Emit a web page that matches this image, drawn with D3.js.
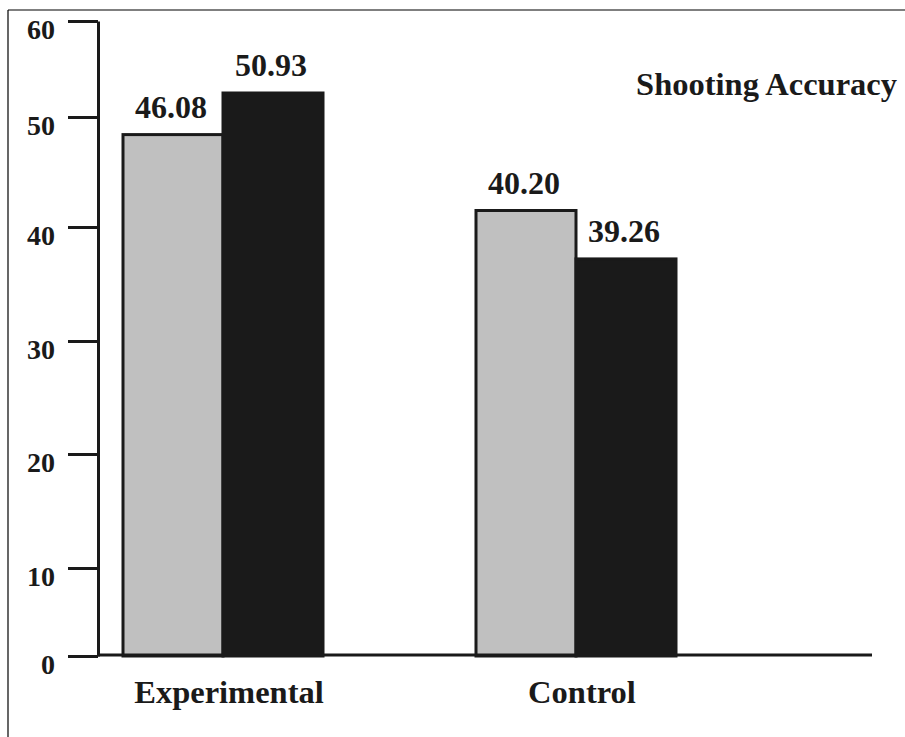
<!DOCTYPE html>
<html>
  <head>
    <meta charset="UTF-8" />
    <script src="https://cdnjs.cloudflare.com/ajax/libs/d3/7.8.5/d3.min.js"></script>
    <style>
      body { margin: 0; background: #fff; }
      .axis path, .axis line { stroke: #1a1a1a; stroke-width: 3; }
      .frame { stroke: #000; stroke-width: 1.2; }
    </style>
  </head>
  <body>
    <svg width="905" height="737"></svg>
    <script>
      // data
      var categories = ["Experimental", "Control"];
      var series = ["pre", "post"];
      // printed values above the bars
      var labels = [[46.08, 50.93], [40.20, 39.26]];
      // bar heights as drawn against the (uneven) axis
      var heights = [[48.4, 52.5], [41.5, 37.2]];
      var yTicks = [0, 10, 20, 30, 40, 50, 60];
      var title = "Shooting Accuracy";

      var FONT = "'Liberation Serif', 'Times New Roman', Times, serif";

      var svg = d3.select("svg");
      var colors = d3.scaleOrdinal().domain(series).range(["#c0c0c0", "#1a1a1a"]);

      // axis in the picture is not evenly spaced, so use a piecewise scale
      var y = d3.scaleLinear()
        .domain(yTicks)
        .range([656, 568, 454, 341, 227, 117, 21]);

      var x0 = d3.scaleBand()
        .domain(categories)
        .range([123, 676])
        .paddingInner(0.4334)
        .paddingOuter(0);

      var x1 = d3.scaleBand()
        .domain(series)
        .range([0, x0.bandwidth()]);

      function txt(sel, size) {
        return sel
          .style("font-family", FONT)
          .style("font-weight", "bold")
          .style("font-size", size + "px")
          .style("fill", "#1a1a1a");
      }

      // frame
      svg.append("line").attr("class", "frame")
        .attr("x1", 8).attr("y1", 10).attr("x2", 905).attr("y2", 10);
      svg.append("line").attr("class", "frame")
        .attr("x1", 8).attr("y1", 10).attr("x2", 8).attr("y2", 737);

      var rows = categories.map((c, i) => series.map((s, j) => ({
        cat: c, ser: s, h: heights[i][j], label: labels[i][j]
      })));

      var groups = svg.selectAll("g.group")
        .data(rows)
        .enter()
        .append("g")
        .attr("class", "group")
        .attr("transform", (d, i) => "translate(" + x0(categories[i]) + ",0)");

      groups.selectAll("rect")
        .data(d => d)
        .enter()
        .append("rect")
        .attr("x", d => x1(d.ser))
        .attr("y", d => y(d.h))
        .attr("width", x1.bandwidth())
        .attr("height", d => y(0) - y(d.h))
        .style("fill", d => colors(d.ser))
        .style("stroke", "#1a1a1a")
        .style("stroke-width", 3);

      groups.selectAll("text.val")
        .data(d => d)
        .enter()
        .append("text")
        .attr("class", "val")
        .attr("x", d => x1(d.ser) + x1.bandwidth() / 2 - 2)
        .attr("y", d => y(d.h) - 17)
        .attr("text-anchor", "middle")
        .call(txt, 32)
        .text(d => d.label.toFixed(2));

      // y axis
      var yAxis = d3.axisLeft(y)
        .tickValues(yTicks)
        .tickSize(30)
        .tickSizeOuter(0)
        .tickPadding(13)
        .tickFormat(d3.format("d"));

      var gy = svg.append("g")
        .attr("class", "axis")
        .attr("transform", "translate(98,0)")
        .call(yAxis);
      gy.selectAll("text")
        .attr("y", 9)
        .call(txt, 28);

      // baseline
      svg.append("line")
        .attr("x1", 97).attr("x2", 872)
        .attr("y1", y(0) - 1).attr("y2", y(0) - 1)
        .style("stroke", "#1a1a1a")
        .style("stroke-width", 3);

      // category labels
      svg.selectAll("text.cat")
        .data(categories)
        .enter()
        .append("text")
        .attr("class", "cat")
        .attr("x", d => x0(d) + x0.bandwidth() / 2 + 6)
        .attr("y", 703)
        .attr("text-anchor", "middle")
        .call(txt, 32.5)
        .text(d => d);

      svg.append("text")
        .attr("x", 897)
        .attr("y", 95)
        .attr("text-anchor", "end")
        .call(txt, 32.5)
        .text(title);
    </script>
  </body>
</html>
